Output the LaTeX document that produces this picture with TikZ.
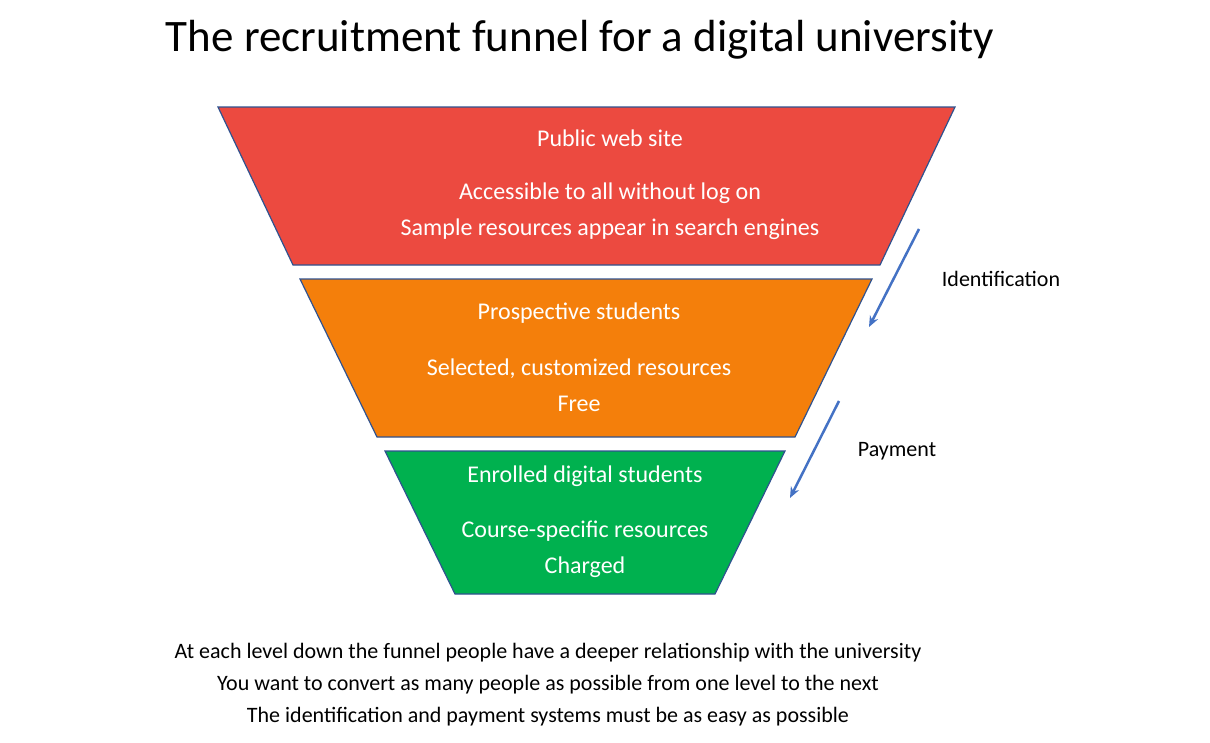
\documentclass[tikz,border=0pt]{standalone}
\usepackage{fontspec}
\usetikzlibrary{arrows.meta}
\setmainfont{Carlito}
\definecolor{fred}{HTML}{EC4A40}
\definecolor{forg}{HTML}{F47F0B}
\definecolor{fgrn}{HTML}{00B14F}
\definecolor{fedge}{HTML}{2F528F}
\definecolor{farr}{HTML}{4472C4}
\tikzset{
 layer/.style={draw=fedge,line width=1.2pt},
 wt/.style={text=white,font=\fontsize{24}{29}\selectfont,inner sep=0pt,anchor=center},
 bt/.style={text=black,font=\fontsize{22}{26}\selectfont,inner sep=0pt,anchor=center},
 flow/.style={draw=farr,line width=2.5pt,-{Stealth[length=11pt,width=9pt]}}
}
\begin{document}
\begin{tikzpicture}[x=1pt,y=-1pt]
\useasboundingbox (0,0) rectangle (1210,742);
\node[inner sep=0pt,font=\fontsize{45}{54}\selectfont] (title) at (580,40) {The recruitment funnel for a digital university};
\path[layer,fill=fred] (218,107) -- (955,107) -- (880,265) -- (293,265) -- cycle;
\path[layer,fill=forg] (300,279) -- (872,279) -- (795,437) -- (377,437) -- cycle;
\path[layer,fill=fgrn] (385,451) -- (785,451) -- (715,594) -- (455,594) -- cycle;
\node[wt] (r1) at (610,138) {Public web site};
\node[wt] (r2) at (610,193) {Accessible to all without log on};
\node[wt] (r3) at (610,229) {Sample resources appear in search engines};
\node[wt] (o1) at (579,313) {Prospective students};
\node[wt] (o2) at (579,369) {Selected, customized resources};
\node[wt] (o3) at (579,404) {Free};
\node[wt] (g1) at (585,476) {Enrolled digital students};
\node[wt] (g2) at (585,531) {Course-specific resources};
\node[wt] (g3) at (585,567) {Charged};
\coordinate (a1s) at (919,229); \coordinate (a1e) at (869,327);
\coordinate (a2s) at (839,401); \coordinate (a2e) at (790,498);
\draw[flow] (a1s) -- (a1e);
\draw[flow] (a2s) -- (a2e);
\node[bt] (id) at (1001,279) {Identification};
\node[bt] (pay) at (897,451) {Payment};
\node[bt] (b1) at (548,653) {At each level down the funnel people have a deeper relationship with the university};
\node[bt] (b2) at (548,685) {You want to convert as many people as possible from one level to the next};
\node[bt] (b3) at (548,717) {The identification and payment systems must be as easy as possible};
\end{tikzpicture}
\end{document}
